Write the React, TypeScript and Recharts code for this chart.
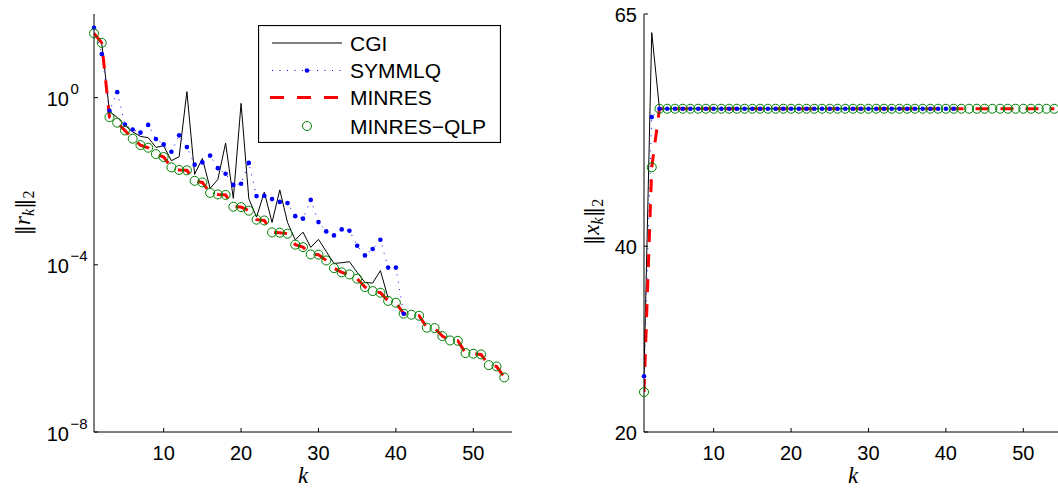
import React from "react";
import { LineChart, Line, XAxis, YAxis, Legend } from "recharts";

const SANS = '"Liberation Sans", Arial, Helvetica, sans-serif';
const SERIF = '"Liberation Serif", "DejaVu Serif", serif';

// residual norms ||r_k||_2 per iteration k (k = index + 1)
const cgiRes = [
  34.4, 20.1, 0.468, 0.336, 0.216, 0.151, 0.118, 0.11, 0.0644, 0.0706,
  0.0309, 0.0386, 1.39, 0.0146, 0.0351, 0.00673, 0.011, 0.0815, 0.00388, 0.727,
  0.00381, 0.00138, 0.00548, 0.00103, 0.00619, 0.00103, 3.94e-4, 6.05e-4, 2.61e-4, 4.05e-4,
  2.09e-4, 1.08e-4, 1.12e-4, 1.19e-4, 6.58e-5, 3.79e-5, 3.65e-5, 7.23e-5, 1.61e-5,
];
const symmlqRes = [
  47.0, 11.0, 0.481, 1.35, 0.226, 0.173, 0.145, 0.222, 0.102, 0.0759,
  0.0508, 0.125, 0.0655, 0.0249, 0.0282, 0.041, 0.0205, 0.0151, 0.00815, 0.00871,
  0.0274, 0.0044, 0.0045, 0.00373, 0.0032, 0.00299, 0.00146, 0.00127, 0.00357, 0.00105,
  6.3e-4, 5.05e-4, 7.03e-4, 6.55e-4, 2.86e-4, 1.68e-4, 2.38e-4, 3.98e-4, 8.57e-5, 8.57e-5,
  6.76e-6,
];
const minresRes = [
  34.4, 20.4, 0.341, 0.251, 0.164, 0.104, 0.0731, 0.0632, 0.0445, 0.0378,
  0.0214, 0.0186, 0.0182, 0.0102, 0.00935, 0.00525, 0.00483, 0.0047, 0.00245, 0.0024,
  0.00197, 0.0012, 0.00115, 5.96e-4, 5.86e-4, 5.55e-4, 3.03e-4, 2.65e-4, 1.77e-4, 1.75e-4,
  1.27e-4, 8.34e-5, 6.58e-5, 5.89e-5, 4.65e-5, 2.93e-5, 2.35e-5, 2.15e-5, 1.37e-5, 1.24e-5,
  6.76e-6, 6.4e-6, 6.05e-6, 3.13e-6, 3.06e-6, 1.97e-6, 1.55e-6, 1.52e-6, 7.73e-7, 7.46e-7,
  7.18e-7, 3.98e-7, 3.71e-7, 2.02e-7,
];
const qlpRes = [
  34.4, 20.4, 0.341, 0.251, 0.164, 0.104, 0.0731, 0.0632, 0.0445, 0.0378,
  0.0214, 0.0186, 0.0182, 0.0102, 0.00935, 0.00525, 0.00483, 0.0047, 0.00245, 0.0024,
  0.00197, 0.0012, 0.00115, 5.96e-4, 5.86e-4, 5.55e-4, 3.03e-4, 2.65e-4, 1.77e-4, 1.75e-4,
  1.27e-4, 8.34e-5, 6.58e-5, 5.89e-5, 4.65e-5, 2.93e-5, 2.35e-5, 2.15e-5, 1.37e-5, 1.24e-5,
  6.76e-6, 6.4e-6, 6.05e-6, 3.13e-6, 3.06e-6, 1.97e-6, 1.55e-6, 1.52e-6, 7.73e-7, 7.46e-7,
  7.18e-7, 3.98e-7, 3.71e-7, 2.02e-7,
];

// solution norms ||x_k||_2
const cgiNorm = [
  26.0, 63.0, 54.8, 54.8, 54.8, 54.8, 54.8, 54.8, 54.8, 54.8,
  54.8, 54.8, 54.8, 54.8, 54.8, 54.8, 54.8, 54.8, 54.8, 54.8,
  54.8, 54.8, 54.8, 54.8, 54.8, 54.8, 54.8, 54.8, 54.8, 54.8,
  54.8, 54.8, 54.8, 54.8, 54.8, 54.8, 54.8, 54.8, 54.8,
];
const symmlqNorm = [
  26.0, 53.9, 54.8, 54.8, 54.8, 54.8, 54.8, 54.8, 54.8, 54.8,
  54.8, 54.8, 54.8, 54.8, 54.8, 54.8, 54.8, 54.8, 54.8, 54.8,
  54.8, 54.8, 54.8, 54.8, 54.8, 54.8, 54.8, 54.8, 54.8, 54.8,
  54.8, 54.8, 54.8, 54.8, 54.8, 54.8, 54.8, 54.8, 54.8, 54.8,
  54.8,
];
const minresNorm = [
  24.3, 48.5, 54.8, 54.8, 54.8, 54.8, 54.8, 54.8, 54.8, 54.8,
  54.8, 54.8, 54.8, 54.8, 54.8, 54.8, 54.8, 54.8, 54.8, 54.8,
  54.8, 54.8, 54.8, 54.8, 54.8, 54.8, 54.8, 54.8, 54.8, 54.8,
  54.8, 54.8, 54.8, 54.8, 54.8, 54.8, 54.8, 54.8, 54.8, 54.8,
  54.8, 54.8, 54.8, 54.8, 54.8, 54.8, 54.8, 54.8, 54.8, 54.8,
  54.8, 54.8, 54.8, 54.8,
];
const qlpNorm = [
  24.3, 48.5, 54.8, 54.8, 54.8, 54.8, 54.8, 54.8, 54.8, 54.8,
  54.8, 54.8, 54.8, 54.8, 54.8, 54.8, 54.8, 54.8, 54.8, 54.8,
  54.8, 54.8, 54.8, 54.8, 54.8, 54.8, 54.8, 54.8, 54.8, 54.8,
  54.8, 54.8, 54.8, 54.8, 54.8, 54.8, 54.8, 54.8, 54.8, 54.8,
  54.8, 54.8, 54.8, 54.8, 54.8, 54.8, 54.8, 54.8, 54.8, 54.8,
  54.8, 54.8, 54.8, 54.8,
];

const kTicks = [10, 20, 30, 40, 50];
const resTicks = [1e-8, 1e-4, 1];
const normTicks = [20, 40, 65];

const residualRows = qlpRes.map((v, i) => ({
  k: i + 1,
  cgi: cgiRes[i],
  symmlq: symmlqRes[i],
  minres: minresRes[i],
  qlp: v,
}));

const normRows = qlpNorm.map((v, i) => ({
  k: i + 1,
  cgi: cgiNorm[i],
  symmlq: symmlqNorm[i],
  minres: minresNorm[i],
  qlp: v,
}));

const W = 530;
const H = 488;
const margin = { top: 14, right: 18, left: 0, bottom: 0 };
const TICK = 4;

const BLUE = "#0000ff";
const RED = "#ff0000";
const GREEN = "#008000";

function BottomTick({ x, y, payload }: any) {
  return (
    <g>
      <line x1={x} y1={y} x2={x} y2={y - TICK} stroke="#000" />
      <text x={x} y={y + 28} textAnchor="middle" fontFamily={SANS} fontSize={20} fill="#000">
        {payload.value}
      </text>
    </g>
  );
}

function TopTick({ x, y }: any) {
  return <line x1={x} y1={y} x2={x} y2={y + TICK} stroke="#000" />;
}

function RightTick({ x, y }: any) {
  return <line x1={x} y1={y} x2={x - TICK} y2={y} stroke="#000" />;
}

function PowerTick({ x, y, payload }: any) {
  const e = Math.round(Math.log10(payload.value));
  return (
    <g fontFamily={SANS} fill="#000">
      <line x1={x} y1={y} x2={x + TICK} y2={y} stroke="#000" />
      <text x={x - 25} y={y + 8.5} textAnchor="end" fontSize={20}>10</text>
      <text x={x - 23.5} y={y - 3.5} fontSize={15}>{e < 0 ? `\u2212${-e}` : `${e}`}</text>
    </g>
  );
}

function PlainTick({ x, y, payload }: any) {
  return (
    <g>
      <line x1={x} y1={y} x2={x + TICK} y2={y} stroke="#000" />
      <text x={x - 7} y={y + 7.5} textAnchor="end" fontFamily={SANS} fontSize={20} fill="#000">
        {payload.value}
      </text>
    </g>
  );
}

const kLabel = ({ viewBox }: any) => (
  <text
    x={viewBox.x + viewBox.width / 2}
    y={483}
    textAnchor="middle"
    fontFamily={SERIF}
    fontStyle="italic"
    fontSize={23}
    fill="#000"
  >
    k
  </text>
);

// rotated ||v_k||_2 label; bx is the baseline x, cy the centre along the axis
function normLabel(sym: string, bx: number, cy: number) {
  return () => (
    <text
      transform={`translate(${bx},${cy}) rotate(-90)`}
      textAnchor="middle"
      fontFamily={SERIF}
      fontSize={23}
      fill="#000"
    >
      <tspan fontFamily='"DejaVu Serif", serif' fontSize={21}>{"\u2016"}</tspan>
      <tspan fontStyle="italic">{sym}</tspan>
      <tspan fontStyle="italic" fontSize={16} dy={4}>k</tspan>
      <tspan fontFamily='"DejaVu Serif", serif' fontSize={21} dy={-4}>{"\u2016"}</tspan>
      <tspan fontSize={16} dy={4}>2</tspan>
    </text>
  );
}

const legendItems = [
  { name: "CGI", kind: "cgi" },
  { name: "SYMMLQ", kind: "symmlq" },
  { name: "MINRES", kind: "minres" },
  { name: "MINRES\u2212QLP", kind: "qlp" },
];
const legendRowY = [18, 45.5, 72.5, 101];

function LegendBox() {
  return (
    <svg width={243} height={118} style={{ display: "block" }}>
      <rect x={0.5} y={0.5} width={242} height={117} fill="#fff" stroke="#000" strokeWidth={1.2} />
      {legendItems.map((it, i) => {
        const cy = legendRowY[i];
        return (
          <g key={it.name}>
            {it.kind === "cgi" && <line x1={14} y1={cy} x2={84} y2={cy} stroke="#000" />}
            {it.kind === "symmlq" && (
              <>
                <line x1={14} y1={cy} x2={84} y2={cy} stroke={BLUE} strokeDasharray="1 6.5" />
                <circle cx={49} cy={cy} r={2.3} fill={BLUE} />
              </>
            )}
            {it.kind === "minres" && (
              <line x1={12} y1={cy} x2={84} y2={cy} stroke={RED} strokeWidth={3} strokeDasharray="14 13" />
            )}
            {it.kind === "qlp" && <circle cx={49} cy={cy} r={4.5} fill="none" stroke={GREEN} />}
            <text x={92} y={cy + 7.5} fontFamily={SANS} fontSize={21} fill="#000">
              {it.name}
            </text>
          </g>
        );
      })}
    </svg>
  );
}

function Series() {
  return [
    <Line
      key="cgi"
      dataKey="cgi"
      stroke="#000"
      strokeWidth={1}
      dot={false}
      activeDot={false}
      isAnimationActive={false}
    />,
    <Line
      key="symmlq"
      dataKey="symmlq"
      stroke={BLUE}
      strokeWidth={1}
      strokeDasharray="1 6.5"
      dot={{ r: 2.3, fill: BLUE, stroke: "none", strokeDasharray: "", clipDot: false }}
      activeDot={false}
      isAnimationActive={false}
    />,
    <Line
      key="minres"
      dataKey="minres"
      stroke={RED}
      strokeWidth={3}
      strokeDasharray="13 12"
      dot={false}
      activeDot={false}
      isAnimationActive={false}
    />,
    <Line
      key="qlp"
      dataKey="qlp"
      stroke="none"
      dot={{ r: 4.5, fill: "none", stroke: GREEN, strokeWidth: 1, strokeDasharray: "", clipDot: false }}
      activeDot={false}
      isAnimationActive={false}
    />,
  ];
}

const axisLine = { stroke: "#000", strokeWidth: 1 };

// bottom axis with labels, plus top and right axes that close the box
function frameAxes(yDomain: number[], yScale: "log" | "linear") {
  return [
    <XAxis
      key="xb"
      dataKey="k"
      type="number"
      domain={[1, 55]}
      ticks={kTicks}
      allowDataOverflow
      height={56}
      tickSize={0}
      tickMargin={0}
      tickLine={false}
      axisLine={axisLine}
      tick={<BottomTick />}
      label={{ content: kLabel }}
    />,
    <XAxis
      key="xt"
      xAxisId="top"
      orientation="top"
      dataKey="k"
      type="number"
      domain={[1, 55]}
      ticks={kTicks}
      allowDataOverflow
      height={0}
      tickSize={0}
      tickMargin={0}
      tickLine={false}
      axisLine={axisLine}
      tick={<TopTick />}
    />,
    <YAxis
      key="yr"
      yAxisId="right"
      orientation="right"
      type="number"
      scale={yScale}
      domain={yDomain}
      ticks={yScale === "log" ? resTicks : normTicks}
      allowDataOverflow
      width={0}
      tickSize={0}
      tickMargin={0}
      tickLine={false}
      axisLine={axisLine}
      tick={<RightTick />}
    />,
  ];
}

function ResidualChart() {
  return (
    <LineChart width={W} height={H} data={residualRows} margin={margin}>
      {frameAxes([1e-8, 100], "log")}
      <YAxis
        type="number"
        scale="log"
        domain={[1e-8, 100]}
        ticks={resTicks}
        allowDataOverflow
        width={94}
        tickSize={0}
        tickMargin={0}
        tickLine={false}
        axisLine={axisLine}
        tick={<PowerTick />}
        label={{ content: normLabel("r", 30, 213) }}
      />
      {Series()}
      <Legend
        layout="vertical"
        align="center"
        verticalAlign="middle"
        wrapperStyle={{ left: 258, top: 25, width: 243, height: 118 }}
        content={() => <LegendBox />}
      />
    </LineChart>
  );
}

function NormChart() {
  return (
    <LineChart width={W} height={H} data={normRows} margin={margin}>
      {frameAxes([20, 65], "linear")}
      <YAxis
        type="number"
        domain={[20, 65]}
        ticks={normTicks}
        allowDataOverflow
        width={94}
        tickSize={0}
        tickMargin={0}
        tickLine={false}
        axisLine={axisLine}
        tick={<PlainTick />}
        label={{ content: normLabel("x", 49, 222) }}
      />
      {Series()}
    </LineChart>
  );
}

export default function App() {
  return (
    <div
      style={{
        position: "absolute",
        left: 0,
        top: 0,
        width: 1058,
        height: 488,
        overflow: "hidden",
        background: "#fff",
      }}
    >
      <div style={{ position: "absolute", left: 0, top: 0 }}>
        <ResidualChart />
      </div>
      <div style={{ position: "absolute", left: 550, top: 0 }}>
        <NormChart />
      </div>
    </div>
  );
}
